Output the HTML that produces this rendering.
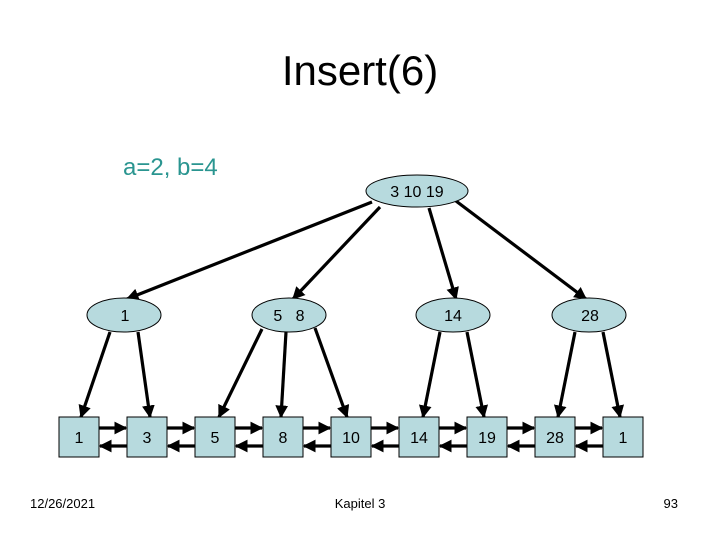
<!DOCTYPE html>
<html><head><meta charset="utf-8"><style>
html,body{margin:0;padding:0;background:#fff;}
svg{display:block;font-family:"Liberation Sans",Arial,sans-serif;}
</style></head><body>
<svg width="720" height="540" viewBox="0 0 720 540" xmlns="http://www.w3.org/2000/svg">
<defs>
<marker id="a" markerWidth="4" markerHeight="4" refX="3.6" refY="2" orient="auto" markerUnits="strokeWidth">
<path d="M0,0 L4,2 L0,4 z" fill="#000"/></marker>
</defs>
<rect width="720" height="540" fill="#fff"/>
<text x="360" y="85" font-size="42" text-anchor="middle" fill="#000">Insert(6)</text>
<text x="123" y="175" font-size="24" fill="#2a9590">a=2, b=4</text>

<g stroke="#000" stroke-width="3.2" marker-end="url(#a)" fill="none">
<line x1="372" y1="202" x2="127" y2="299"/>
<line x1="380" y1="207" x2="293" y2="299"/>
<line x1="429" y1="208" x2="456" y2="299"/>
<line x1="456" y1="201" x2="586" y2="299"/>
<line x1="110" y1="332" x2="81" y2="417"/>
<line x1="138" y1="332" x2="150" y2="417"/>
<line x1="262" y1="329" x2="219" y2="417"/>
<line x1="286" y1="332" x2="281" y2="417"/>
<line x1="315" y1="328" x2="347" y2="417"/>
<line x1="440" y1="332" x2="423" y2="417"/>
<line x1="467" y1="332" x2="484" y2="417"/>
<line x1="575" y1="332" x2="558" y2="417"/>
<line x1="603" y1="332" x2="620" y2="417"/>
</g>

<g fill="#b7dade" stroke="#000" stroke-width="1">
<ellipse cx="417" cy="191" rx="51" ry="16"/>
<ellipse cx="124" cy="315" rx="37" ry="17"/>
<ellipse cx="289" cy="315" rx="37" ry="17"/>
<ellipse cx="453" cy="315" rx="37" ry="17"/>
<ellipse cx="589" cy="315" rx="37" ry="17"/>
</g>
<g font-size="16" text-anchor="middle" fill="#000">
<text x="417" y="197">3  10  19</text>
<text x="125" y="321">1</text>
<text x="289" y="321" xml:space="preserve">5   8</text>
<text x="453" y="321">14</text>
<text x="590" y="321">28</text>
</g>

<g id="leaves">
<g fill="#b7dade" stroke="#000" stroke-width="1">
<rect x="59" y="417" width="40" height="40"/>
<rect x="127" y="417" width="40" height="40"/>
<rect x="195" y="417" width="40" height="40"/>
<rect x="263" y="417" width="40" height="40"/>
<rect x="331" y="417" width="40" height="40"/>
<rect x="399" y="417" width="40" height="40"/>
<rect x="467" y="417" width="40" height="40"/>
<rect x="535" y="417" width="40" height="40"/>
<rect x="603" y="417" width="40" height="40"/>
</g>
<g font-size="16" text-anchor="middle" fill="#000">
<text x="79" y="443">1</text>
<text x="147" y="443">3</text>
<text x="215" y="443">5</text>
<text x="283" y="443">8</text>
<text x="351" y="443">10</text>
<text x="419" y="443">14</text>
<text x="487" y="443">19</text>
<text x="555" y="443">28</text>
<text x="623" y="443">1</text>
</g>
</g>

<g stroke="#000" stroke-width="3.2" marker-end="url(#a)">
<line x1="99" y1="428" x2="126" y2="428"/><line x1="127" y1="446" x2="100" y2="446"/>
<line x1="167" y1="428" x2="194" y2="428"/><line x1="195" y1="446" x2="168" y2="446"/>
<line x1="235" y1="428" x2="262" y2="428"/><line x1="263" y1="446" x2="236" y2="446"/>
<line x1="303" y1="428" x2="330" y2="428"/><line x1="331" y1="446" x2="304" y2="446"/>
<line x1="371" y1="428" x2="398" y2="428"/><line x1="399" y1="446" x2="372" y2="446"/>
<line x1="439" y1="428" x2="466" y2="428"/><line x1="467" y1="446" x2="440" y2="446"/>
<line x1="507" y1="428" x2="534" y2="428"/><line x1="535" y1="446" x2="508" y2="446"/>
<line x1="575" y1="428" x2="602" y2="428"/><line x1="603" y1="446" x2="576" y2="446"/>
</g>

<g font-size="13" fill="#000">
<text x="30" y="508">12/26/2021</text>
<text x="360" y="508" text-anchor="middle">Kapitel 3</text>
<text x="678" y="508" text-anchor="end">93</text>
</g>
</svg>
</body></html>
